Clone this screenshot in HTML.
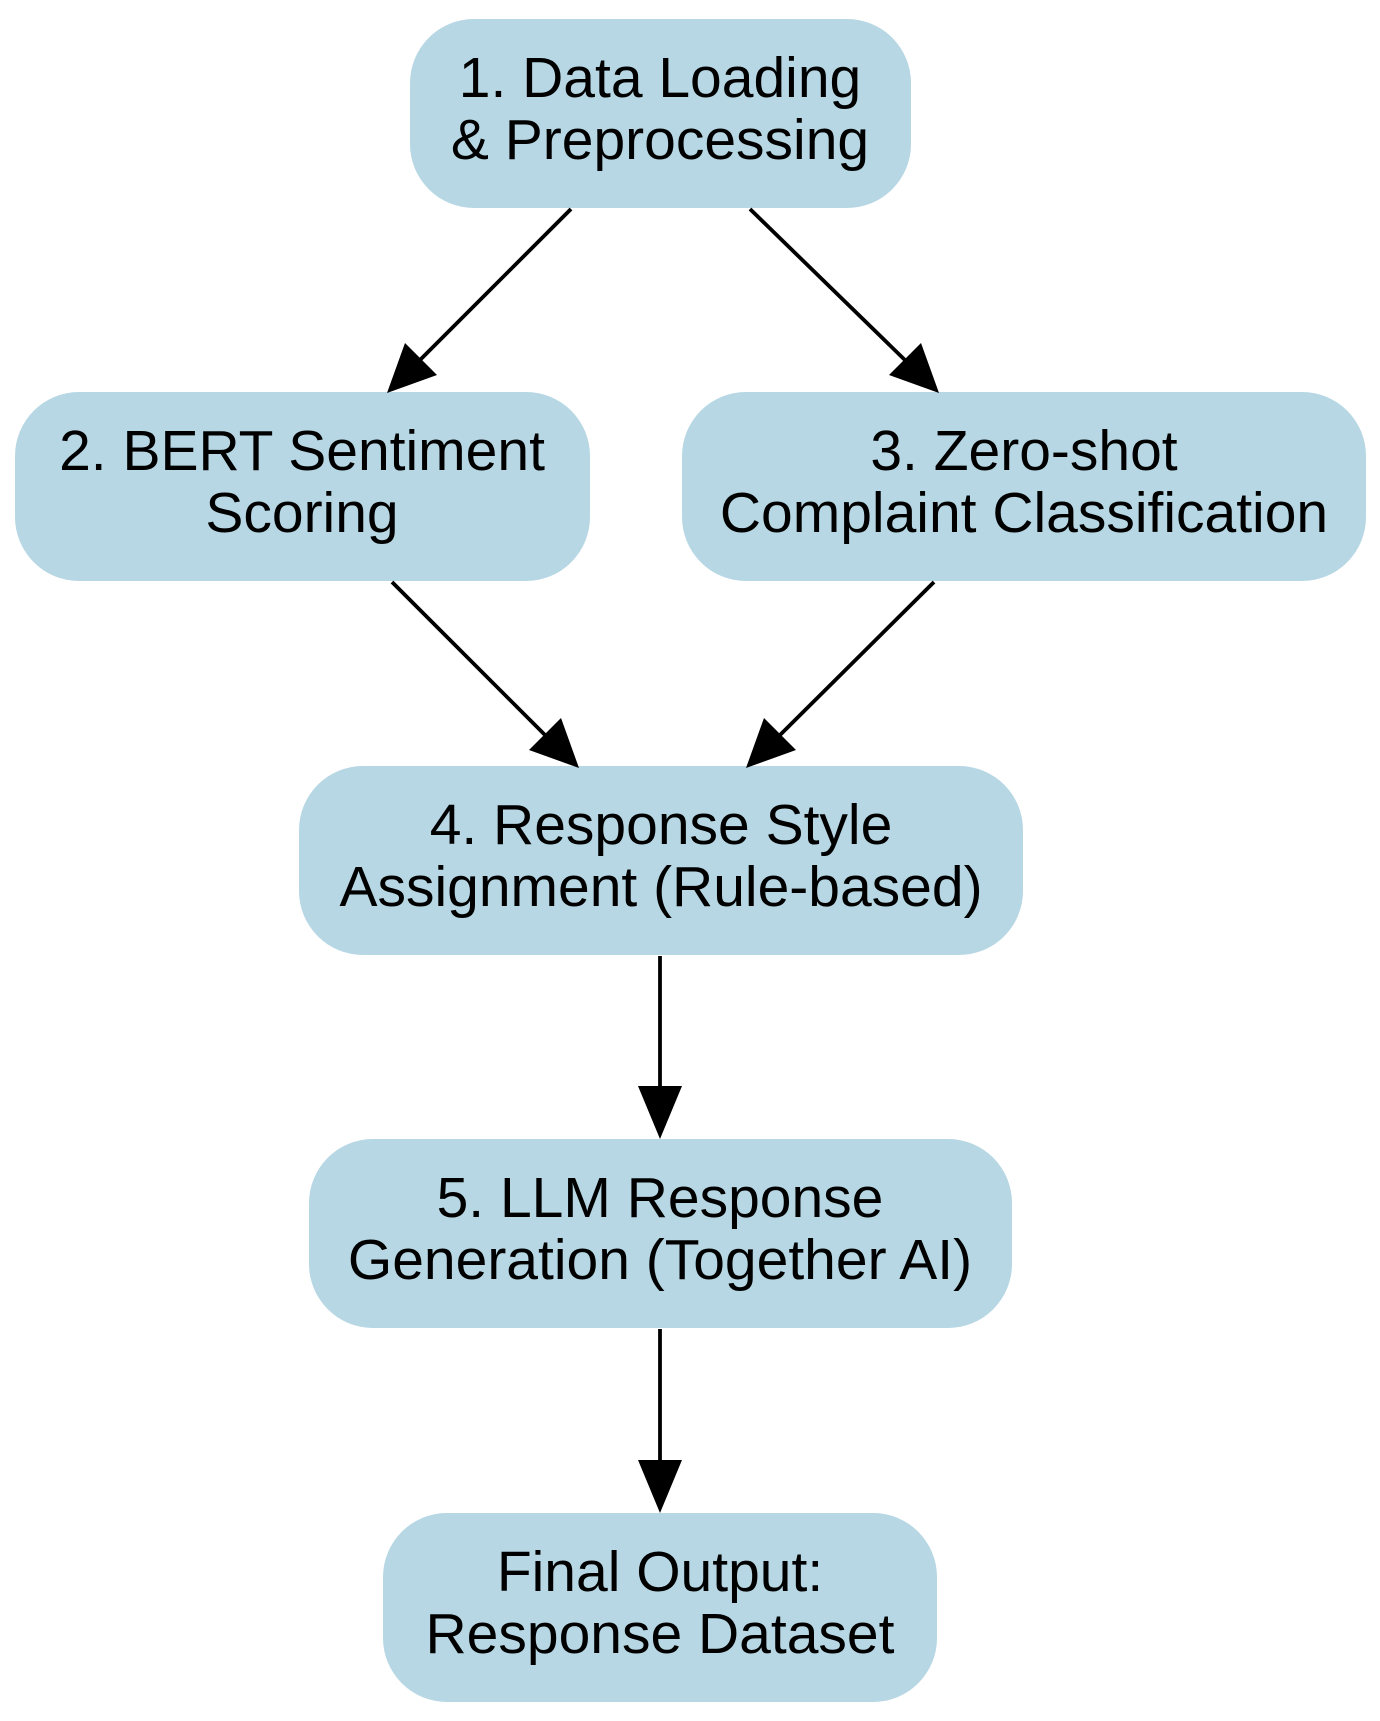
<!DOCTYPE html>
<html><head><meta charset="utf-8"><style>html,body{margin:0;padding:0;background:#fff}svg{display:block}</style></head>
<body>
<svg width="1380" height="1721" viewBox="0 0 1380 1721" xmlns="http://www.w3.org/2000/svg">
<g fill="#b6d7e3">
<rect x="410" y="19" width="501" height="189" rx="64"/>
<rect x="15" y="392" width="575" height="189" rx="64"/>
<rect x="682" y="392" width="684" height="189" rx="64"/>
<rect x="299" y="766" width="724" height="189" rx="64"/>
<rect x="309" y="1139" width="703" height="189" rx="64"/>
<rect x="383" y="1513" width="554" height="189" rx="64"/>
</g>
<g stroke="#000" stroke-width="3.8" fill="none">
<line x1="571" y1="209" x2="417" y2="363"/>
<line x1="750" y1="209" x2="908" y2="363"/>
<line x1="392" y1="582" x2="548" y2="738"/>
<line x1="934" y1="582" x2="777" y2="738"/>
<line x1="660" y1="956" x2="660" y2="1095"/>
<line x1="660" y1="1329" x2="660" y2="1469"/>
</g>
<g fill="#000">
<polygon points="387,393 405,343 437,375"/>
<polygon points="939,393 889,375 921,343"/>
<polygon points="579,768 529,750 561,718"/>
<polygon points="746,768 764,718 796,750"/>
<polygon points="660,1139 638,1086 682,1086"/>
<polygon points="660,1513 638,1460 682,1460"/>
</g>
<g font-family="Liberation Sans, Arial, sans-serif" font-size="57" text-anchor="middle" fill="#000">
<text x="660" y="97">1. Data Loading</text>
<text x="660" y="159">&amp; Preprocessing</text>
<text x="302" y="470">2. BERT Sentiment</text>
<text x="302" y="532">Scoring</text>
<text x="1024" y="470">3. Zero-shot</text>
<text x="1024" y="532">Complaint Classification</text>
<text x="661" y="844">4. Response Style</text>
<text x="661" y="906">Assignment (Rule-based)</text>
<text x="660" y="1217">5. LLM Response</text>
<text x="660" y="1279">Generation (Together AI)</text>
<text x="660" y="1591">Final Output:</text>
<text x="660" y="1653">Response Dataset</text>
</g>
</svg>
</body></html>
